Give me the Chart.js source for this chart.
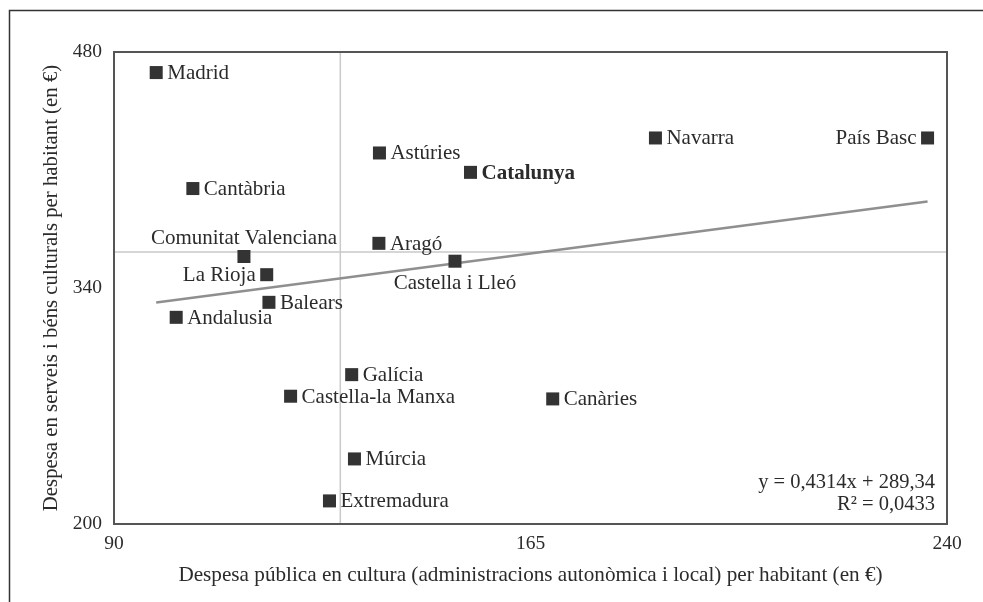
<!DOCTYPE html>
<html lang="ca">
<head>
  <meta charset="UTF-8" />
  <title>Despesa en cultura per habitant</title>
  <script src="https://cdn.jsdelivr.net/npm/chart.js"></script>
  <style>
    html, body { margin: 0; padding: 0; background: #fff; }
    #wrap { position: relative; width: 983px; height: 602px; }
  </style>
</head>
<body>
<div id="wrap"><canvas id="scatter"></canvas></div>

<script>
// Comunitats autònomes: despesa pública (x) i despesa de les llars (y), € per habitant
const regions = ["Madrid", "Cantàbria", "Comunitat Valenciana", "La Rioja", "Balears", "Andalusia",
  "Astúries", "Aragó", "Catalunya", "Castella i Lleó", "Navarra", "País Basc",
  "Galícia", "Castella-la Manxa", "Canàries", "Múrcia", "Extremadura"];
const publicSpend = [97.6, 104.2, 113.4, 117.5, 117.9, 101.2,
  137.8, 137.7, 154.2, 151.4, 187.5, 236.5,
  132.8, 121.8, 169.0, 133.3, 128.8];
const householdSpend = [467.8, 399.0, 358.7, 347.9, 331.5, 322.6,
  420.1, 366.5, 408.6, 355.9, 429.0, 429.0,
  288.6, 275.8, 274.2, 238.6, 213.7];

// mitjana espanyola (línies de referència)
const refX = [130.75];
const refY = [361.4];

// recta de regressió
const trendCoef = [0.4314, 289.34];
const trendText = ["y = 0,4314x + 289,34", "R² = 0,0433"];

const xTicks = [90, 165, 240];
const yTicks = [200, 340, 480];

const serif = "'Liberation Serif', 'Times New Roman', serif";
const ink = "#2b2b2b";

// on va l'etiqueta respecte del quadrat
const labelSide = {
  "Comunitat Valenciana": "above",
  "Castella i Lleó": "below",
  "La Rioja": "left",
  "País Basc": "left"
};

const xMin = Math.min(...publicSpend), xMax = Math.max(...publicSpend);
const trendData = [xMin, xMax].map(x => ({ x: x, y: trendCoef[0] * x + trendCoef[1] }));

const points = publicSpend.map((x, i) => ({ x: x, y: householdSpend[i] }));

const framePlugin = {
  id: 'frames',
  beforeDraw(chart) {
    const ctx = chart.ctx;
    ctx.save();
    // marc exterior
    ctx.strokeStyle = '#333';
    ctx.lineWidth = 1.5;
    ctx.beginPath();
    ctx.moveTo(9.5, chart.height);
    ctx.lineTo(9.5, 10.5);
    ctx.lineTo(chart.width, 10.5);
    ctx.stroke();
    ctx.restore();
  },
  afterDatasetsDraw(chart) {
    const ctx = chart.ctx;
    const a = chart.chartArea;
    const pts = chart.getDatasetMeta(0).data;
    ctx.save();
    // etiquetes dels punts
    ctx.fillStyle = ink;
    pts.forEach((p, i) => {
      const name = regions[i];
      const side = labelSide[name] || 'right';
      ctx.font = (name === 'Catalunya' ? 'bold ' : '') + '21px ' + serif;
      ctx.textBaseline = 'middle';
      if (side === 'right') {
        ctx.textAlign = 'left';
        ctx.fillText(name, p.x + 11, p.y + 1);
      } else if (side === 'left') {
        ctx.textAlign = 'right';
        ctx.fillText(name, p.x - 11, p.y + 1);
      } else if (side === 'above') {
        ctx.textAlign = 'center';
        ctx.fillText(name, p.x, p.y - 18);
      } else {
        ctx.textAlign = 'center';
        ctx.fillText(name, p.x, p.y + 22);
      }
    });
    // equació de la recta
    ctx.font = '20.5px ' + serif;
    ctx.textAlign = 'right';
    ctx.fillText(trendText[0], a.right - 12, a.bottom - 41);
    ctx.fillText(trendText[1], a.right - 12, a.bottom - 19);
    // vora de l'àrea del gràfic
    ctx.strokeStyle = '#555';
    ctx.lineWidth = 2;
    ctx.strokeRect(a.left, a.top, a.right - a.left, a.bottom - a.top);
    ctx.restore();
  }
};

new Chart(document.getElementById('scatter'), {
  type: 'scatter',
  data: {
    datasets: [
      {
        data: points,
        pointStyle: 'rect',
        pointRadius: 9.2,
        pointHoverRadius: 9.2,
        backgroundColor: '#333',
        borderWidth: 0,
        order: 0
      },
      {
        type: 'line',
        data: trendData,
        borderColor: '#8f8f8f',
        borderWidth: 2.5,
        pointRadius: 0,
        fill: false,
        order: 1
      },
      {
        type: 'line',
        data: [{ x: refX[0], y: yTicks[0] }, { x: refX[0], y: yTicks[2] }],
        borderColor: '#c9c9c9',
        borderWidth: 1.5,
        pointRadius: 0,
        order: 2
      },
      {
        type: 'line',
        data: [{ x: xTicks[0], y: refY[0] }, { x: xTicks[2], y: refY[0] }],
        borderColor: '#c9c9c9',
        borderWidth: 1.5,
        pointRadius: 0,
        order: 2
      }
    ]
  },
  options: {
    responsive: true,
    maintainAspectRatio: false,
    animation: false,
    layout: { padding: { top: 52, right: 36, left: 0, bottom: 0 } },
    plugins: {
      legend: { display: false },
      tooltip: { enabled: false }
    },
    scales: {
      x: {
        type: 'linear',
        min: xTicks[0],
        max: xTicks[2],
        afterBuildTicks: s => { s.ticks = xTicks.map(v => ({ value: v })); },
        afterFit: s => { s.height = 78; },
        grid: { display: false, drawTicks: false },
        border: { display: false },
        ticks: { color: ink, padding: 8, font: { family: serif, size: 19.5 } },
        title: {
          display: true,
          text: 'Despesa pública en cultura (administracions autonòmica i local) per habitant (en €)',
          color: ink,
          font: { family: serif, size: 21.2 },
          padding: { top: 0, bottom: 14 }
        }
      },
      y: {
        type: 'linear',
        min: yTicks[0],
        max: yTicks[2],
        afterBuildTicks: s => { s.ticks = yTicks.map(v => ({ value: v })); },
        afterFit: s => { s.width = 114; },
        grid: { display: false, drawTicks: false },
        border: { display: false },
        ticks: { color: ink, padding: 12, font: { family: serif, size: 19.5 } },
        title: {
          display: true,
          text: 'Despesa en serveis i béns culturals per habitant (en €)',
          color: ink,
          font: { family: serif, size: 20.8 },
          padding: { top: 39, bottom: 0 }
        }
      }
    }
  },
  plugins: [framePlugin]
});
</script>
</body>
</html>
